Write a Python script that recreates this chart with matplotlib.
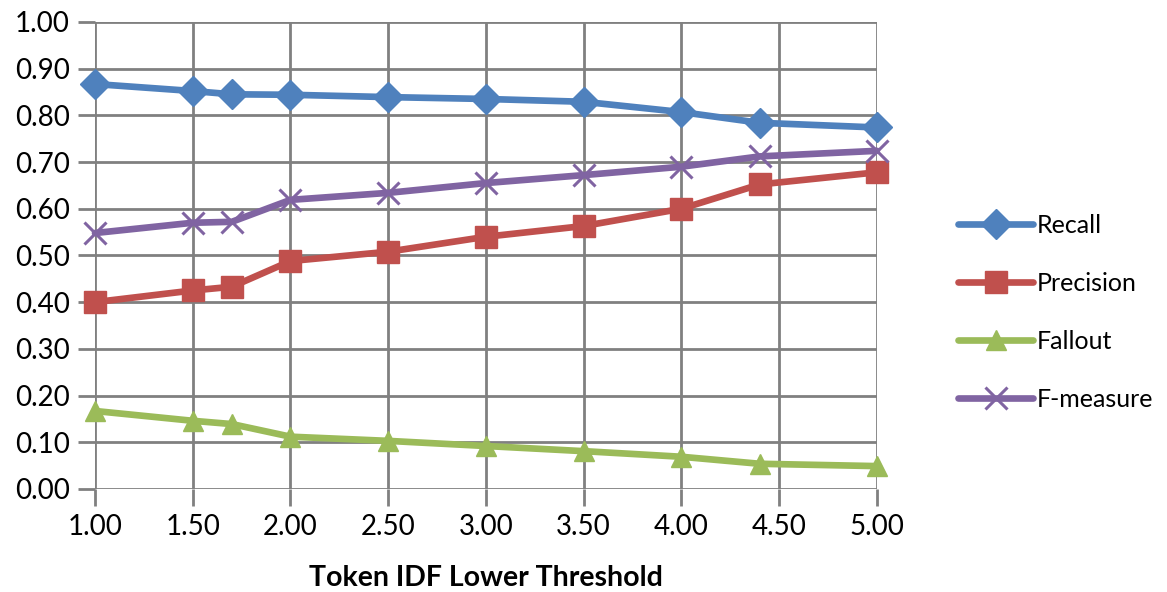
import matplotlib.pyplot as plt

plt.rcParams["font.family"] = ["Lato", "DejaVu Sans"]

thresholds = [1.0, 1.5, 1.7, 2.0, 2.5, 3.0, 3.5, 4.0, 4.4, 5.0]
recall = [0.867, 0.852, 0.845, 0.844, 0.839, 0.835, 0.829, 0.807, 0.784, 0.774]
precision = [0.400, 0.425, 0.433, 0.488, 0.508, 0.540, 0.563, 0.600, 0.652, 0.678]
fallout = [0.167, 0.146, 0.139, 0.112, 0.103, 0.092, 0.081, 0.069, 0.054, 0.049]
f_measure = [0.548, 0.570, 0.572, 0.619, 0.634, 0.655, 0.672, 0.690, 0.712, 0.724]

x_ticks = [1.0, 1.5, 2.0, 2.5, 3.0, 3.5, 4.0, 4.5, 5.0]
y_ticks = [i / 10 for i in range(11)]

series = [
    ("Recall", recall, "#4F81BD", "D", 15),
    ("Precision", precision, "#C0504D", "s", 16),
    ("Fallout", fallout, "#9BBB59", "^", 15),
    ("F-measure", f_measure, "#8064A2", "x", 16),
]

fig = plt.figure(figsize=(11.67, 5.92), dpi=100)
ax = fig.add_axes([0.0814, 0.174, 0.67, 0.789])

for label, values, color, marker, size in series:
    ax.plot(thresholds, values, color=color, lw=4.8, marker=marker, ms=size,
            mew=2.2 if marker == "x" else 1, mec=color, mfc=color, label=label,
            solid_capstyle="round", zorder=3, clip_on=False)

ax.set_xlim(1.0, 5.0)
ax.set_ylim(0.0, 1.0)
ax.set_xticks(x_ticks)
ax.set_xticklabels([f"{t:.2f}" for t in x_ticks])
ax.set_yticks(y_ticks)
ax.set_yticklabels([f"{t:.2f}" for t in y_ticks])
ax.grid(True, color="#808080", lw=2.0)
for spine in ax.spines.values():
    spine.set_visible(False)
ax.tick_params(axis="both", length=12, width=2.0, color="#808080", labelsize=20, pad=6)
ax.set_xlabel("Token IDF Lower Threshold", fontsize=20.5, fontweight="bold", labelpad=18)

fig.legend(loc="center left", bbox_to_anchor=(0.802, 0.472), frameon=False, fontsize=18,
           handlelength=3.0, labelspacing=1.4, handletextpad=0.15)

fig.savefig("out.png", dpi=100)
